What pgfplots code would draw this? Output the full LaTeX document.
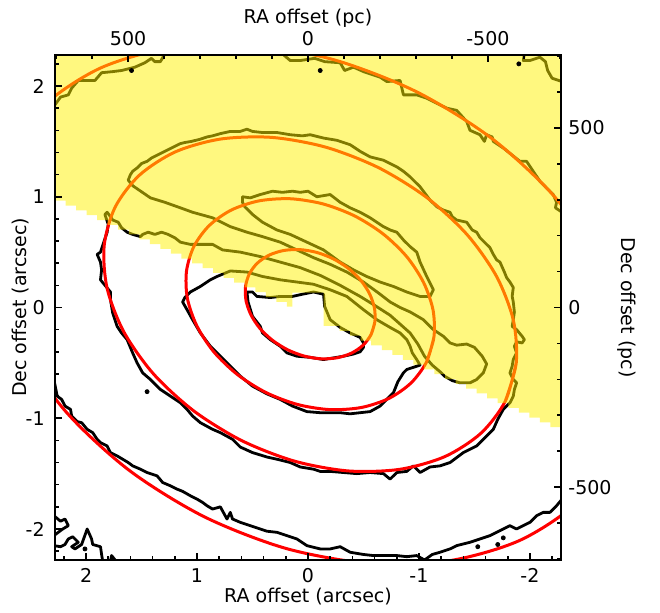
\documentclass[border=0pt]{standalone}
\usepackage{fontspec}
\setmainfont{DejaVu Sans}
\usepackage{pgfplots}
\pgfplotsset{compat=1.18}
\tikzset{lblfont/.style={font=\fontsize{9.5}{11}\selectfont, inner sep=0pt}}
\begin{document}
\begin{tikzpicture}[x=1pt,y=1pt]
\pgfplotsset{
  cont/.style={black, line width=1.4pt, line join=round, line cap=round},
  ell/.style={red, line width=1.5pt, smooth},
}
\begin{axis}[
  at={(0,0)}, anchor=south west,
  scale only axis, width=253pt, height=252.5pt,
  xmin=-2.28, xmax=2.28, ymin=-2.28, ymax=2.28,
  x dir=reverse,
  axis on top,
  axis line style={line width=0.8pt},
  xtick={-2,-1,0,1,2}, xticklabels={-2,-1,0,1,2},
  ytick={-2,-1,0,1,2}, yticklabels={-2,-1,0,1,2},
  minor xtick={-2.2,-1.8,-1.6,-1.4,-1.2,-0.8,-0.6,-0.4,-0.2,0.2,0.4,0.6,0.8,1.2,1.4,1.6,1.8,2.2},
  minor ytick={-2.2,-1.8,-1.6,-1.4,-1.2,-0.8,-0.6,-0.4,-0.2,0.2,0.4,0.6,0.8,1.2,1.4,1.6,1.8,2.2},
  xtick pos=left, ytick pos=left,
  major tick length=3.5pt, minor tick length=2pt,
  every tick/.style={black, line width=0.8pt},
  tick label style={lblfont},
  xticklabel style={anchor=base, yshift=-11pt},
  yticklabel style={anchor=east, xshift=-5pt},
  xlabel={RA offset (arcsec)}, ylabel={Dec offset (arcsec)},
  label style={lblfont},
  xlabel style={at={([yshift=-21pt]axis description cs:0.5,0)}, anchor=base},
  ylabel style={at={([xshift=-14pt]axis description cs:0,0.5)}, anchor=base},
]
% ---- contours ----
\addplot[cont] coordinates {(2.28,1.83) (2.23,1.90) (2.16,1.92) (2.13,1.98) (2.07,2.05) (1.92,2.05) (1.86,2.12) (1.76,2.13) (1.68,2.14) (1.56,2.17) (1.47,2.21) (1.41,2.25) (1.38,2.22) (1.33,2.22) (1.29,2.29)};
\addplot[cont] coordinates {(0.23,2.29) (0.16,2.23) (0.07,2.23) (-0.06,2.25) (-0.15,2.22) (-0.29,2.21) (-0.33,2.14) (-0.41,2.17) (-0.50,2.13) (-0.65,2.08) (-0.71,2.04) (-0.83,2.05) (-0.86,1.92) (-0.98,1.92) (-1.07,1.89) (-1.25,1.80) (-1.34,1.78) (-1.43,1.68) (-1.46,1.60) (-1.55,1.56) (-1.59,1.50) (-1.61,1.56) (-1.66,1.54) (-1.67,1.50) (-1.76,1.44) (-1.91,1.32) (-1.97,1.32) (-2.03,1.23) (-2.09,1.14) (-2.15,1.08) (-2.21,1.02) (-2.24,0.95) (-2.23,0.90) (-2.29,0.86)};
\addplot[cont] coordinates {(-1.95,2.29) (-1.94,2.23) (-2.00,2.23) (-2.09,2.26) (-2.14,2.22) (-2.16,2.14) (-2.20,2.07) (-2.29,2.04)};
\addplot[cont] coordinates {(2.29,-0.65) (2.26,-0.80) (2.22,-0.83) (2.19,-0.89) (2.14,-0.92) (2.13,-0.98) (2.08,-1.03) (2.04,-1.04) (1.99,-1.10) (1.94,-1.13) (1.90,-1.19) (1.87,-1.22) (1.81,-1.25) (1.78,-1.31) (1.72,-1.34) (1.67,-1.37) (1.62,-1.40) (1.58,-1.43) (1.51,-1.46) (1.45,-1.49) (1.36,-1.52) (1.31,-1.58) (1.24,-1.61) (1.18,-1.64) (1.13,-1.66) (1.06,-1.70) (1.00,-1.73) (0.95,-1.76) (0.91,-1.79) (0.86,-1.82) (0.79,-1.80) (0.73,-1.91) (0.70,-1.85) (0.68,-1.91) (0.61,-1.94) (0.52,-1.97) (0.43,-2.00) (0.37,-2.02) (0.28,-2.03) (0.19,-2.06) (0.10,-2.09) (0.01,-2.15) (-0.11,-2.18) (-0.20,-2.18) (-0.29,-2.16) (-0.38,-2.21) (-0.50,-2.23) (-0.59,-2.24) (-0.68,-2.24) (-0.80,-2.24) (-0.89,-2.25) (-0.98,-2.24) (-1.05,-2.28) (-1.12,-2.23) (-1.19,-2.21) (-1.28,-2.18) (-1.34,-2.15) (-1.46,-2.12) (-1.55,-2.09) (-1.64,-2.06) (-1.76,-2.00) (-1.82,-1.97) (-1.88,-2.00) (-2.00,-1.94) (-2.06,-1.88) (-2.12,-1.85) (-2.18,-1.85) (-2.24,-1.79) (-2.29,-1.73)};
\addplot[cont] coordinates {(2.29,-1.88) (2.23,-1.93) (2.19,-1.91) (2.16,-1.97) (2.21,-2.00) (2.25,-2.03) (2.29,-2.06)};
\addplot[cont] coordinates {(2.29,-2.15) (2.23,-2.16) (2.19,-2.14) (2.16,-2.09) (2.12,-2.07) (2.07,-2.12) (2.13,-2.16) (2.10,-2.18) (2.04,-2.14) (1.99,-2.00) (1.95,-2.09) (1.94,-2.14) (1.87,-2.16) (1.86,-2.23) (1.85,-2.29)};
\addplot[cont] coordinates {(1.78,-2.29) (1.77,-2.24) (1.73,-2.29)};
% big contour following ellipse 3, closing through the band and the blob
\addplot[cont] coordinates {(1.58,1.10) (1.62,1.15) (1.60,1.20) (1.58,1.23) (1.54,1.26) (1.50,1.30) (1.45,1.32) (1.41,1.35) (1.35,1.38) (1.29,1.41) (1.23,1.44) (1.15,1.48) (1.11,1.49) (1.05,1.50) (0.97,1.52) (0.91,1.54) (0.86,1.55) (0.79,1.57) (0.70,1.59) (0.61,1.59) (0.55,1.61) (0.50,1.59) (0.41,1.58) (0.28,1.58) (0.16,1.56) (0.05,1.55) (-0.02,1.56) (-0.14,1.53) (-0.26,1.51) (-0.38,1.47) (-0.47,1.41) (-0.56,1.36) (-0.68,1.33) (-0.80,1.27) (-0.86,1.23) (-0.92,1.18) (-1.01,1.09) (-1.10,0.97) (-1.16,0.91) (-1.22,0.88) (-1.28,0.86) (-1.30,0.82) (-1.34,0.79) (-1.43,0.77) (-1.48,0.70) (-1.52,0.68) (-1.55,0.63) (-1.59,0.59) (-1.64,0.54) (-1.67,0.48) (-1.70,0.43) (-1.73,0.41) (-1.77,0.32) (-1.79,0.27) (-1.82,0.23) (-1.85,0.18) (-1.84,0.10) (-1.85,0.05) (-1.86,-0.04) (-1.85,-0.11) (-1.84,-0.17) (-1.88,-0.20) (-1.93,-0.26) (-1.95,-0.29) (-1.93,-0.32) (-1.88,-0.31) (-1.86,-0.35) (-1.88,-0.41) (-1.85,-0.47) (-1.84,-0.53) (-1.82,-0.59) (-1.85,-0.65) (-1.88,-0.68) (-1.86,-0.74) (-1.85,-0.80) (-1.82,-0.86) (-1.76,-0.92) (-1.71,-1.01) (-1.67,-1.10) (-1.61,-1.16) (-1.52,-1.25) (-1.40,-1.31) (-1.28,-1.40) (-1.19,-1.43) (-1.10,-1.44) (-1.01,-1.49) (-0.95,-1.43) (-0.89,-1.48) (-0.80,-1.49) (-0.74,-1.55) (-0.68,-1.50) (-0.56,-1.49) (-0.44,-1.50) (-0.32,-1.49) (-0.20,-1.48) (-0.11,-1.48) (-0.05,-1.46) (0.07,-1.44) (0.16,-1.40) (0.28,-1.37) (0.37,-1.35) (0.50,-1.31) (0.61,-1.26) (0.68,-1.19) (0.79,-1.13) (0.86,-1.10) (0.97,-1.04) (1.04,-0.98) (1.09,-0.92) (1.15,-0.86) (1.24,-0.80) (1.33,-0.74) (1.42,-0.65) (1.49,-0.59) (1.54,-0.50) (1.58,-0.41) (1.63,-0.29) (1.68,-0.23) (1.72,-0.17) (1.74,-0.11) (1.76,-0.05) (1.77,0.01) (1.78,0.07) (1.78,0.14) (1.87,0.25) (1.86,0.34) (1.87,0.41) (1.90,0.48) (1.87,0.50) (1.84,0.59) (1.81,0.68) (1.80,0.75) (1.83,0.84) (1.81,0.86) (1.78,0.82) (1.76,0.79) (1.71,0.77) (1.68,0.72) (1.63,0.68) (1.58,0.66) (1.51,0.64) (1.49,0.66) (1.44,0.68) (1.38,0.66) (1.32,0.68) (1.26,0.66) (1.20,0.63) (1.15,0.59) (1.06,0.57) (0.97,0.57) (0.86,0.57) (0.77,0.52) (0.61,0.50) (0.43,0.46) (0.25,0.41) (0.07,0.36) (-0.11,0.29) (-0.29,0.20) (-0.47,0.10) (-0.60,0.02) (-0.74,-0.07) (-0.83,-0.15) (-0.92,-0.23) (-0.99,-0.33) (-1.05,-0.44) (-1.12,-0.52) (-1.19,-0.58) (-1.23,-0.62) (-1.30,-0.66) (-1.37,-0.68) (-1.46,-0.68) (-1.52,-0.65) (-1.58,-0.59) (-1.61,-0.51) (-1.57,-0.44) (-1.50,-0.36) (-1.43,-0.33) (-1.34,-0.34) (-1.28,-0.32) (-1.22,-0.26) (-1.13,-0.20) (-1.04,-0.11) (-0.92,-0.04) (-0.83,0.00) (-0.74,0.05) (-0.65,0.12) (-0.50,0.23) (-0.35,0.32) (-0.20,0.39) (-0.05,0.45) (0.10,0.52) (0.25,0.59) (0.41,0.64) (0.55,0.68) (0.70,0.73) (0.86,0.81) (1.04,0.86) (1.15,0.90) (1.29,0.95) (1.42,0.99) (1.58,1.10)};
% tongue following ellipse 2 (top)
\addplot[cont] coordinates {(0.59,1.00) (0.52,0.99) (0.43,1.02) (0.32,1.05) (0.23,1.04) (0.14,1.05) (0.07,1.04) (0.00,1.05) (-0.08,1.00) (-0.20,1.02) (-0.29,0.95) (-0.38,0.90) (-0.47,0.86) (-0.56,0.81) (-0.62,0.77) (-0.68,0.73) (-0.74,0.70) (-0.80,0.68) (-0.86,0.61) (-0.92,0.55) (-0.98,0.50) (-1.01,0.41) (-1.07,0.28) (-1.13,0.16) (-1.10,0.10) (-1.01,0.10) (-0.89,0.14) (-0.77,0.19) (-0.65,0.23) (-0.53,0.28) (-0.41,0.34) (-0.29,0.41) (-0.14,0.52) (0.01,0.59) (0.16,0.66) (0.28,0.70) (0.41,0.77) (0.50,0.84) (0.57,0.91) (0.59,0.95) (0.59,1.00)};
% contour round ellipse 2 (lower)
\addplot[cont] coordinates {(0.82,0.28) (0.70,0.33) (0.55,0.32) (0.41,0.28) (0.25,0.25) (0.10,0.23) (-0.05,0.21) (-0.20,0.16) (-0.35,0.10) (-0.50,-0.02) (-0.62,-0.11) (-0.74,-0.18) (-0.83,-0.23) (-0.89,-0.29) (-0.92,-0.35) (-0.94,-0.41) (-0.98,-0.47) (-1.01,-0.52) (-0.95,-0.54) (-0.89,-0.56) (-0.86,-0.59) (-0.81,-0.67) (-0.77,-0.77) (-0.71,-0.83) (-0.65,-0.89) (-0.56,-0.94) (-0.47,-0.95) (-0.38,-0.96) (-0.29,-0.95) (-0.20,-0.95) (-0.11,-0.95) (0.01,-0.94) (0.14,-0.89) (0.25,-0.83) (0.37,-0.78) (0.50,-0.71) (0.61,-0.62) (0.70,-0.53) (0.79,-0.44) (0.88,-0.35) (0.97,-0.23) (1.04,-0.11) (1.09,-0.02) (1.13,0.05) (1.11,0.09) (1.06,0.14) (0.97,0.19) (0.88,0.25) (0.82,0.28)};
% innermost contour
\addplot[cont] coordinates {(-0.14,0.12) (-0.05,0.14) (0.05,0.12) (0.14,0.10) (0.25,0.10) (0.34,0.09) (0.46,0.10) (0.50,0.14) (0.55,0.14) (0.54,0.05) (0.50,-0.08) (0.43,-0.17) (0.41,-0.23) (0.34,-0.29) (0.25,-0.35) (0.19,-0.41) (0.10,-0.44) (-0.02,-0.45) (-0.14,-0.47) (-0.26,-0.45) (-0.32,-0.44) (-0.41,-0.42) (-0.47,-0.40) (-0.50,-0.36) (-0.50,-0.32) (-0.47,-0.27) (-0.38,-0.23) (-0.29,-0.18) (-0.20,-0.11) (-0.15,0.01) (-0.14,0.12)};
\addplot[only marks, mark=*, mark size=1pt, black] coordinates {(1.59,2.14) (-0.11,2.14) (-1.90,2.20) (1.45,-0.76) (-1.53,-2.16) (-1.71,-2.14) (-1.76,-2.08) (2.01,-2.18)};
% ---- ellipses ----
\addplot[ell] coordinates {(-0.569,-0.243) (-0.603,-0.128) (-0.598,0.000) (-0.553,0.128) (-0.473,0.249) (-0.360,0.356) (-0.225,0.441) (-0.076,0.498) (0.077,0.523) (0.223,0.514) (0.352,0.472) (0.457,0.400) (0.529,0.303) (0.563,0.188) (0.558,0.060) (0.513,-0.068) (0.433,-0.189) (0.320,-0.296) (0.185,-0.381) (0.036,-0.438) (-0.117,-0.463) (-0.263,-0.454) (-0.392,-0.412) (-0.497,-0.340) (-0.569,-0.243) (-0.603,-0.128)};
\addplot[ell] coordinates {(-1.068,-0.492) (-1.135,-0.267) (-1.127,-0.023) (-1.042,0.225) (-0.889,0.460) (-0.675,0.666) (-0.418,0.828) (-0.133,0.936) (0.159,0.982) (0.440,0.963) (0.689,0.881) (0.889,0.741) (1.028,0.552) (1.095,0.327) (1.087,0.083) (1.002,-0.165) (0.849,-0.400) (0.635,-0.606) (0.378,-0.768) (0.093,-0.876) (-0.199,-0.922) (-0.480,-0.903) (-0.729,-0.821) (-0.929,-0.681) (-1.068,-0.492) (-1.135,-0.267)};
\addplot[ell] coordinates {(-1.778,-0.846) (-1.877,-0.497) (-1.850,-0.112) (-1.698,0.283) (-1.432,0.660) (-1.069,0.994) (-0.635,1.263) (-0.159,1.448) (0.326,1.536) (0.788,1.521) (1.194,1.406) (1.519,1.195) (1.738,0.906) (1.837,0.557) (1.810,0.172) (1.658,-0.223) (1.392,-0.600) (1.029,-0.934) (0.595,-1.203) (0.119,-1.388) (-0.366,-1.476) (-0.828,-1.461) (-1.234,-1.346) (-1.559,-1.135) (-1.778,-0.846) (-1.877,-0.497)};
\addplot[ell] coordinates {(-2.745,-1.328) (-2.900,-0.785) (-2.858,-0.186) (-2.623,0.427) (-2.211,1.013) (-1.649,1.532) (-0.976,1.949) (-0.237,2.236) (0.515,2.371) (1.231,2.347) (1.862,2.166) (2.364,1.839) (2.705,1.388) (2.860,0.845) (2.818,0.246) (2.583,-0.367) (2.171,-0.953) (1.609,-1.472) (0.936,-1.889) (0.197,-2.176) (-0.555,-2.311) (-1.271,-2.287) (-1.902,-2.106) (-2.404,-1.779) (-2.745,-1.328) (-2.900,-0.785)};
% ---- yellow overlay (semi-transparent) ----
\addplot[draw=none, fill=yellow, fill opacity=0.5, const plot] coordinates {(2.30,0.964) (2.185,0.921) (2.090,0.877) (1.995,0.834) (1.900,0.790) (1.805,0.747) (1.710,0.703) (1.615,0.660) (1.520,0.616) (1.425,0.573) (1.330,0.529) (1.235,0.486) (1.140,0.442) (1.045,0.399) (0.950,0.355) (0.855,0.312) (0.760,0.268) (0.665,0.225) (0.570,0.181) (0.475,0.138) (0.380,0.094) (0.285,0.051) (0.190,0.007) (0.14,0.135) (-0.14,-0.167) (-0.285,-0.211) (-0.380,-0.254) (-0.475,-0.298) (-0.570,-0.341) (-0.665,-0.385) (-0.760,-0.428) (-0.855,-0.472) (-0.950,-0.515) (-1.045,-0.559) (-1.140,-0.602) (-1.235,-0.646) (-1.330,-0.689) (-1.425,-0.733) (-1.520,-0.776) (-1.615,-0.820) (-1.710,-0.863) (-1.805,-0.907) (-1.900,-0.950) (-1.995,-0.994) (-2.090,-1.037) (-2.185,-1.081) (-2.30,-1.124) (-2.30,2.30) (2.30,2.30) (2.30,0.964)};
\end{axis}
\begin{axis}[
  at={(0,0)}, anchor=south west,
  scale only axis, width=253pt, height=252.5pt,
  xmin=-703, xmax=703, ymin=-703, ymax=703,
  x dir=reverse,
  axis line style={line width=0.8pt},
  xtick={-500,0,500}, xticklabels={-500,0,500},
  ytick={-500,0,500}, yticklabels={-500,0,500},
  minor xtick={-700,-600,-400,-300,-200,-100,100,200,300,400,600,700},
  minor ytick={-700,-600,-400,-300,-200,-100,100,200,300,400,600,700},
  xtick pos=right, ytick pos=right,
  xticklabel pos=right, yticklabel pos=right,
  major tick length=3.5pt, minor tick length=2pt,
  every tick/.style={black, line width=0.8pt},
  tick label style={lblfont},
  xticklabel style={anchor=base, yshift=5pt},
  yticklabel style={anchor=west, xshift=3.5pt},
  xlabel={RA offset (pc)}, ylabel={Dec offset (pc)},
  label style={lblfont},
  xlabel style={at={([yshift=16pt]axis description cs:0.5,1)}, anchor=base},
  ylabel style={at={([xshift=30pt]axis description cs:1,0.5)}, anchor=base, rotate=180},
]
\end{axis}
\pgfresetboundingbox
\path[use as bounding box] (-27.5,-26) rectangle (302.5,280);
\end{tikzpicture}
\end{document}
